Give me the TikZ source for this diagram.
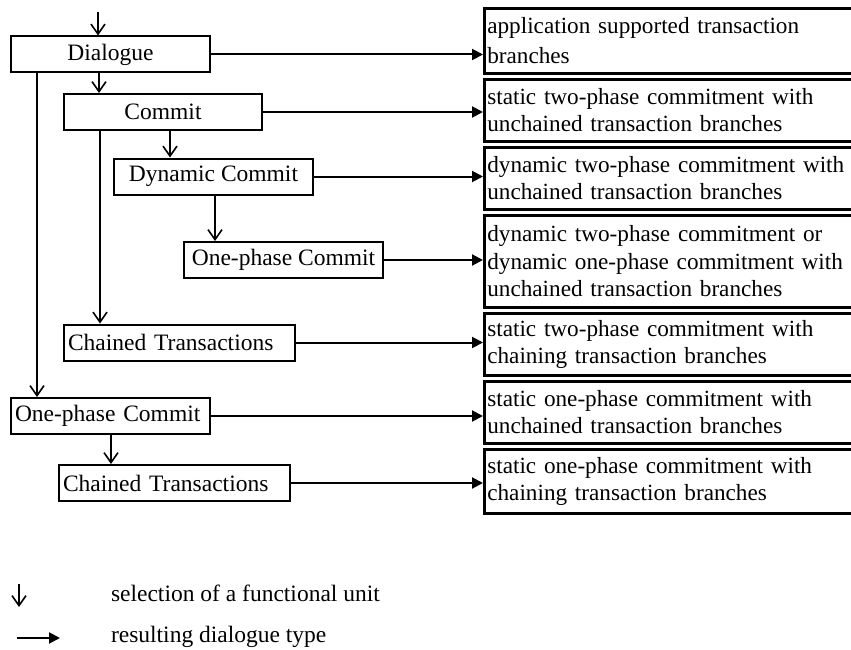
\documentclass[tikz,border=0pt]{standalone}
\usepackage{fontspec}
\setmainfont{Liberation Serif}
\usetikzlibrary{arrows.meta,calc}
\begin{document}
\begin{tikzpicture}[x=1pt,y=-1pt,line width=2pt,
  font=\fontsize{23.5}{27}\selectfont,
  fbox/.style={draw,rectangle,inner sep=0pt,minimum height=36pt},
  fboxl/.style={fbox,align=left,text width=#1,inner xsep=4pt},
  rbox/.style={draw,rectangle,line width=2.6pt,anchor=north west,inner xsep=3pt,inner ysep=2pt,
     text width=370pt,align=left,font=\fontsize{23.2}{27.5}\selectfont},
  sel/.style={-{Straight Barb[length=10pt,width=14pt,line width=1.6pt]}},
  res/.style={-{Triangle[length=11pt,width=11pt]}}]
\useasboundingbox (0,0) rectangle (851,650);
\clip (0,0) rectangle (851,650);
% left boxes
\node[fbox,minimum width=199pt] (dlg) at (110.5,54.5) {Dialogue};
\node[fbox,minimum width=198pt] (cm) at (163,112) {Commit};
\node[fbox,minimum width=199pt] (dyn) at (213.5,176.5) {Dynamic Commit};
\node[fbox,minimum width=199pt] (opi) at (283.5,260) {One-phase Commit};
\node[fboxl=223pt,minimum width=231pt] (cti) at (179.5,342.5) {Chained Transactions};
\node[fboxl=191pt,minimum width=199pt] (opo) at (110.5,416) {One-phase Commit};
\node[fboxl=223pt,minimum width=231pt] (cto) at (174.5,483) {Chained Transactions};
% right boxes
\node[rbox,minimum height=65pt] (r1) at (483,7) {application supported transaction\\[2pt]branches};
\node[rbox,minimum height=62pt] (r2) at (483,78) {static two-phase commitment with\\unchained transaction branches};
\node[rbox,minimum height=62pt] (r3) at (483,146) {dynamic two-phase commitment with\\unchained transaction branches};
\node[rbox,minimum height=92pt] (r4) at (483,214) {dynamic two-phase commitment or\\dynamic one-phase commitment with\\unchained transaction branches};
\node[rbox,minimum height=62pt] (r5) at (483,312) {static two-phase commitment with\\chaining transaction branches};
\node[rbox,minimum height=62pt] (r6) at (483,380) {static one-phase commitment with\\unchained transaction branches};
\node[rbox,minimum height=64pt] (r7) at (483,448) {static one-phase commitment with\\chaining transaction branches};
% entry
\coordinate (entry) at (98,12);
\draw[sel] (entry) -- (entry |- dlg.north);
% selections
\draw[sel] ($(dlg.south west)+(89,0)$) -- ($(cm.north west)+(36,0)$);
\draw[sel] ($(dlg.south west)+(27,0)$) -- ($(opo.north west)+(27,0)$);
\draw[sel] ($(cm.south west)+(107,0)$) -- ($(dyn.north west)+(57,0)$);
\draw[sel] ($(cm.south west)+(37,0)$) -- ($(cti.north west)+(37,0)$);
\draw[sel] ($(dyn.south west)+(102,0)$) -- ($(opi.north west)+(32,0)$);
\draw[sel] ($(opo.south west)+(101,0)$) -- ($(cto.north west)+(53,0)$);
% results
\draw[res] (dlg.east) -- (dlg.east -| r1.west);
\draw[res] (cm.east) -- (cm.east -| r2.west);
\draw[res] (dyn.east) -- (dyn.east -| r3.west);
\draw[res] (opi.east) -- (opi.east -| r4.west);
\draw[res] (cti.east) -- (cti.east -| r5.west);
\draw[res] (opo.east) -- (opo.east -| r6.west);
\draw[res] (cto.east) -- (cto.east -| r7.west);
% legend
\coordinate (l1a) at (19,584);
\coordinate (l1b) at (19,607);
\draw[sel] (l1a) -- (l1b);
\node[anchor=west,inner sep=0pt] (t1) at (110,593) {selection of a functional unit};
\coordinate (l2a) at (17,638);
\coordinate (l2b) at (60,638);
\draw[res] (l2a) -- (l2b);
\node[anchor=west,inner sep=0pt] (t2) at (110,637) {resulting dialogue type};
\end{tikzpicture}
\end{document}
